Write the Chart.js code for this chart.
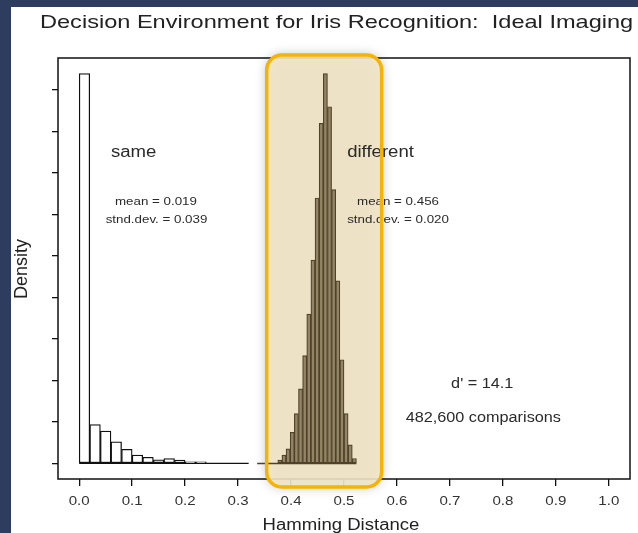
<!DOCTYPE html>
<html>
<head>
<meta charset="utf-8">
<script src="https://cdn.jsdelivr.net/npm/chart.js@4.4.1/dist/chart.umd.min.js"></script>
<style>
  html, body { margin: 0; padding: 0; width: 638px; height: 533px; overflow: hidden; background: #2e3c60; }
  #panel { position: absolute; left: 11px; top: 7px; width: 627px; height: 526px; background: #ffffff; }
  canvas { display: block; }
</style>
</head>
<body>
<div id="panel"><canvas id="decisionChart" width="627" height="526"></canvas></div>
<script>
const FONT = '"Liberation Sans", Arial, Helvetica, sans-serif';
const STRETCH = 1.16;

// x axis tick labels (Hamming distance)
const tickLabels = ["0.0", "0.1", "0.2", "0.3", "0.4", "0.5", "0.6", "0.7", "0.8", "0.9", "1.0"];

// "same" eye comparisons: bins of 0.02 starting at 0
const sameStart = 0;
const sameBinWidth = 0.02;
const sameDensity = [18.8, 1.88, 1.56, 1.04, 0.68, 0.40, 0.30, 0.18, 0.24, 0.16, 0.08, 0.08];
const sameRange = [0, 0.32];

// "different" eye comparisons: bins of 1/128 starting at 0.375
const diffStart = 0.375;
const diffBinWidth = 1 / 128;
const diffDensity = [0.16, 0.4, 0.7, 1.5, 2.4, 3.6, 5.2, 7.2, 9.8, 12.8, 16.4, 18.8, 17.2, 13.2, 8.8, 5.0, 2.4, 0.9, 0.24];
const diffRange = [0.336, 0.5234];

// shaded decision band
const bandRange = [0.354, 0.571];

// annotations: [text, x, y, size, align]
const notes = [
  ["same", 0.060, 14.8, 16, "left"],
  ["mean = 0.019", 0.145, 12.47, 11.5, "center"],
  ["stnd.dev. = 0.039", 0.146, 11.59, 11.5, "center"],
  ["different", 0.506, 14.8, 16, "left"],
  ["mean = 0.456", 0.602, 12.47, 11.5, "center"],
  ["stnd.dev. = 0.020", 0.602, 11.59, 11.5, "center"],
  ["d' = 14.1", 0.761, 3.65, 14, "center"],
  ["482,600 comparisons", 0.763, 2.0, 14, "center"]
];

const toBars = (start, width, values) =>
  values.map((v, i) => ({ x: start + (i + 0.5) * width, y: v }));
const toBaseline = (range) => range.map((x) => ({ x: x, y: 0 }));

function drawText(ctx, text, x, y, size, align, color, stretch) {
  ctx.save();
  ctx.translate(x, y);
  ctx.scale(stretch || STRETCH, 1);
  ctx.font = size + "px " + FONT;
  ctx.fillStyle = color || "#2a2a2a";
  ctx.textAlign = align || "left";
  ctx.textBaseline = "alphabetic";
  ctx.fillText(text, 0, 0);
  ctx.restore();
}

function roundRect(ctx, x, y, w, h, r) {
  ctx.beginPath();
  ctx.moveTo(x + r, y);
  ctx.lineTo(x + w - r, y);
  ctx.arcTo(x + w, y, x + w, y + r, r);
  ctx.lineTo(x + w, y + h - r);
  ctx.arcTo(x + w, y + h, x + w - r, y + h, r);
  ctx.lineTo(x + r, y + h);
  ctx.arcTo(x, y + h, x, y + h - r, r);
  ctx.lineTo(x, y + r);
  ctx.arcTo(x, y, x + r, y, r);
  ctx.closePath();
}

function bandBox(chart) {
  const xs = chart.scales.x;
  const area = chart.chartArea;
  const x0 = xs.getPixelForValue(bandRange[0]);
  const x1 = xs.getPixelForValue(bandRange[1]);
  return { x: x0, y: area.top - 3, w: x1 - x0, h: area.bottom - area.top + 11 };
}

const decorations = {
  id: "decorations",
  beforeDatasetsDraw(chart) {
    const ctx = chart.ctx;
    const a = chart.chartArea;
    // plot frame
    ctx.save();
    ctx.strokeStyle = "#111";
    ctx.lineWidth = 1.5;
    ctx.strokeRect(a.left, a.top, a.right - a.left, a.bottom - a.top);
    ctx.restore();

    // band fill with soft shadow
    const b = bandBox(chart);
    ctx.save();
    ctx.shadowColor = "rgba(0,0,0,0.3)";
    ctx.shadowBlur = 12;
    roundRect(ctx, b.x, b.y, b.w, b.h, 15);
    ctx.fillStyle = "rgba(243,230,200,0.9)";
    ctx.fill();
    ctx.restore();
  },
  afterDatasetsDraw(chart) {
    const ctx = chart.ctx;
    const xs = chart.scales.x;
    const ys = chart.scales.y;
    const a = chart.chartArea;

    notes.forEach(([text, x, y, size, align]) => {
      drawText(ctx, text, xs.getPixelForValue(x), ys.getPixelForValue(y), size, align);
    });

    // x tick labels
    xs.ticks.forEach((t, i) => {
      drawText(ctx, tickLabels[i], xs.getPixelForValue(t.value), a.bottom + 26, 13, "center", "#333");
    });

    // titles
    drawText(ctx, "Decision Environment for Iris Recognition:  Ideal Imaging", 29, 20.5, 19, "left", "#222", 1.24);
    drawText(ctx, "Hamming Distance", 330, 523, 16, "center", "#222");

    ctx.save();
    ctx.translate(16, 262);
    ctx.rotate(-Math.PI / 2);
    ctx.font = "18px " + FONT;
    ctx.fillStyle = "#222";
    ctx.textAlign = "center";
    ctx.fillText("Density", 0, 0);
    ctx.restore();

    // band outline
    const b = bandBox(chart);
    ctx.save();
    roundRect(ctx, b.x, b.y, b.w, b.h, 15);
    ctx.strokeStyle = "#f6b300";
    ctx.lineWidth = 3.5;
    ctx.stroke();
    ctx.restore();
  }
};

new Chart(document.getElementById("decisionChart"), {
  type: "bar",
  data: {
    datasets: [
      {
        data: toBars(sameStart, sameBinWidth, sameDensity),
        xAxisID: "x",
        backgroundColor: "#ffffff",
        borderColor: "#111111",
        borderWidth: 1.3,
        borderSkipped: false,
        barPercentage: 1,
        categoryPercentage: 1,
        grouped: false,
      },
      {
        data: toBars(diffStart, diffBinWidth, diffDensity),
        xAxisID: "x2",
        backgroundColor: "#928464",
        borderColor: "#4e4228",
        borderWidth: 1.2,
        borderSkipped: false,
        barPercentage: 1,
        categoryPercentage: 1,
        grouped: false,
      },
      {
        type: "line",
        data: toBaseline(sameRange),
        xAxisID: "x",
        borderColor: "#111111",
        borderWidth: 1.3,
        pointRadius: 0,
      },
      {
        type: "line",
        data: toBaseline(diffRange),
        xAxisID: "x",
        borderColor: "#4e4228",
        borderWidth: 1.5,
        pointRadius: 0,
      },
    ],
  },
  options: {
    responsive: false,
    animation: false,
    events: [],
    layout: {
      padding: { left: 36, right: 8, top: 51, bottom: 12 },
    },
    scales: {
      x: {
        type: "linear",
        offset: false,
        min: -0.04,
        max: 1.04,
        afterFit: (s) => { s.height = 42; },
        grid: { offset: false, drawOnChartArea: false, drawTicks: true, tickLength: 7, color: "#111", lineWidth: 1.3 },
        border: { display: false },
        ticks: { display: false, stepSize: 0.1, includeBounds: false, autoSkip: false },
      },
      x2: {
        type: "linear",
        display: false,
        offset: false,
        min: -0.04,
        max: 1.04,
      },
      y: {
        min: -0.75,
        max: 19.55,
        afterFit: (s) => { s.width = 11; },
        grid: { drawOnChartArea: false, drawTicks: true, tickLength: 6, color: "#111", lineWidth: 1.3 },
        border: { display: false },
        ticks: { display: false, stepSize: 2, includeBounds: false },
      },
    },
    plugins: {
      legend: { display: false },
      tooltip: { enabled: false },
    },
  },
  plugins: [decorations],
});
</script>
</body>
</html>
